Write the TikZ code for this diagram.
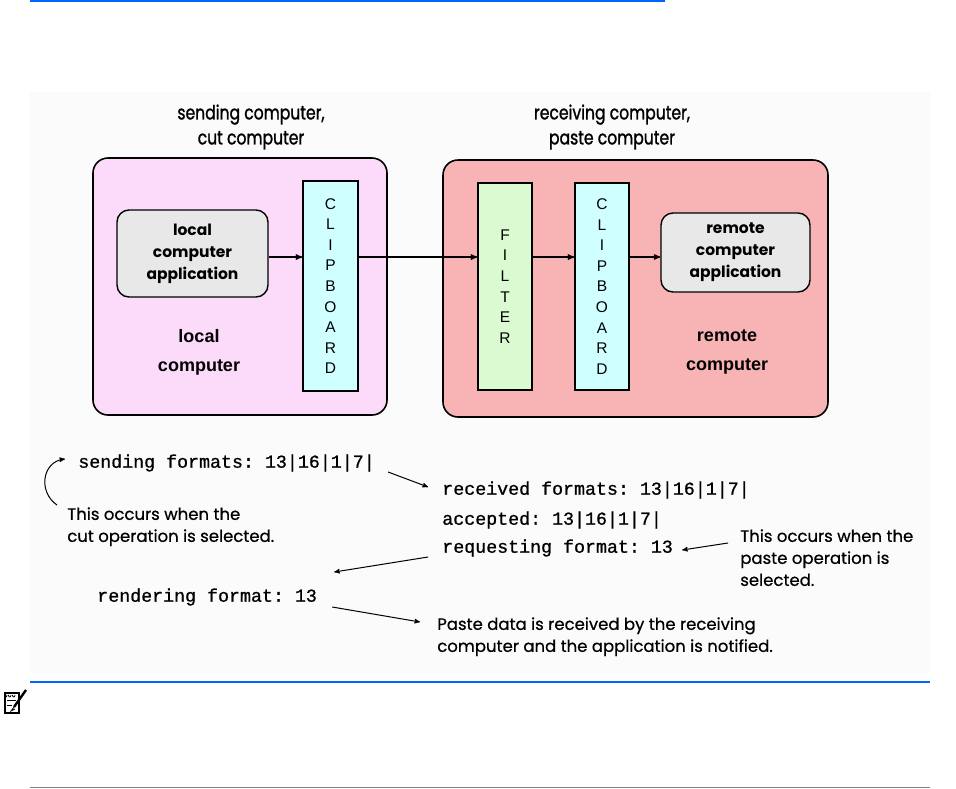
\documentclass[tikz,border=0pt]{standalone}
\usepackage{fontspec}
\setmainfont{Poppins}
\newfontfamily\condfont[FakeStretch=0.8,FakeBold=1.2]{Poppins}
\newfontfamily\notefont[FakeBold=0.6]{Poppins}
\newfontfamily\arialfont{Liberation Sans}
\setmonofont[FakeBold=0.8]{Liberation Mono}
\usepackage{tikz}
\usetikzlibrary{arrows,calc}
\definecolor{blueline}{RGB}{0,102,255}
\definecolor{figbg}{RGB}{251,251,251}
\definecolor{localpink}{RGB}{252,218,250}
\definecolor{remotered}{RGB}{248,180,180}
\definecolor{appgray}{RGB}{232,232,232}
\definecolor{clipcyan}{RGB}{208,255,255}
\definecolor{filtergreen}{RGB}{218,250,210}

\begin{document}
\begin{tikzpicture}[x=1pt,y=-1pt,>=stealth',semithick,
    machine/.style={draw, line width=1.6pt, rounded corners=15pt, inner sep=0pt},
    app/.style={draw, line width=1.4pt, rounded corners=12pt, fill=appgray, align=center,
      inner sep=0pt, font=\fontsize{15.5}{22}\selectfont\bfseries},
    strip/.style={draw, line width=1.6pt, align=center, inner sep=0pt,
      font=\arialfont\fontsize{15.5}{20.6}\selectfont},
    title/.style={align=center, inner sep=0pt, font=\condfont\fontsize{19.5}{25}\selectfont},
    place/.style={align=center, inner sep=0pt, font=\arialfont\bfseries\fontsize{18}{29}\selectfont},
    code/.style={anchor=west, inner sep=0pt, font=\ttfamily\fontsize{18.3}{22}\selectfont},
    note/.style={anchor=north west, inner sep=0pt, align=left, font=\notefont\fontsize{16.5}{22}\selectfont},
    flow/.style={->, line width=1.3pt},
    hint/.style={->, line width=1pt}]
    \useasboundingbox (0,0) rectangle (956,788);
    \fill[figbg] (30,92) rectangle (930,673);
    % page rules
    \draw[blueline, line width=1.5pt] (30,1) -- (665,1);
    \draw[blueline, line width=1.2pt] (30,682) -- (930,682);
    \draw[gray, line width=1pt] (30,787) -- (930,787);
    % note icon
    \draw[line width=1.3pt] (5,693) rectangle (19,713);
    \foreach \k in {7,11,15} \draw[line width=0.8pt] (\k,695) arc (0:180:1.3 and 2);
    \draw[line width=0.9pt] (7,700) -- (16,700) (7,705) -- (12,705);
    \draw[line width=2.4pt] (26,690) -- (14,707);
    \draw[line width=0.8pt] (14,707) -- (11,711) -- (15,709);

    % computers
    \node[title] (sendtitle) at (251,127) {sending computer,\\cut computer};
    \node[title] (recvtitle) at (612,127) {receiving computer,\\paste computer};
    \node[machine, fill=localpink, minimum width=294pt, minimum height=257pt] (local) at (240,286.5) {};
    \node[machine, fill=remotered, minimum width=385pt, minimum height=257pt] (remote) at (635.5,288.5) {};
    \node[app, minimum width=151pt, minimum height=87pt] (localapp) at (192.5,253.5) {local\\computer\\application};
    \node[strip, fill=clipcyan, minimum width=55pt, minimum height=210pt] (clipL) at (330.5,286) {C\\L\\I\\P\\B\\O\\A\\R\\D};
    \node[strip, fill=filtergreen, minimum width=54pt, minimum height=207pt] (filter) at (505,286.5) {F\\I\\L\\T\\E\\R};
    \node[strip, fill=clipcyan, minimum width=54pt, minimum height=207pt] (clipR) at (602,286.5) {C\\L\\I\\P\\B\\O\\A\\R\\D};
    \node[app, minimum width=149pt, minimum height=79pt] (remoteapp) at (735.5,252.5) {remote\\computer\\application};
    \node[place] (localname) at (199,352) {local\\computer};
    \node[place] (remotename) at (727,352) {remote\\computer};
    \coordinate (lane) at (0,257);
    \draw[flow] (localapp.east |- lane) -- (clipL.west |- lane);
    \draw[flow] (clipL.east |- lane) -- (filter.west |- lane);
    \draw[flow] (filter.east |- lane) -- (clipR.west |- lane);
    \draw[flow] (clipR.east |- lane) -- (remoteapp.west |- lane);

    % format exchange
    \node[code] (sendfmt) at (78,463) {sending formats: 13|16|1|7|};
    \node[note] (cutnote) at (67,507) {This occurs when the\\cut operation is selected.};
    \node[code] (recvfmt) at (442,490) {received formats: 13|16|1|7|};
    \node[code] (accfmt) at (442,520) {accepted: 13|16|1|7|};
    \node[code] (reqfmt) at (442,548) {requesting format: 13};
    \node[note] (pastenote) at (740,529) {This occurs when the\\paste operation is\\selected.};
    \node[code] (rendfmt) at (97,597) {rendering format: 13};
    \node[note] (datanote) at (437,617) {Paste data is received by the receiving\\computer and the application is notified.};
    \draw[hint] ($(cutnote.north west)+(-10,-2)$) .. controls (38,492) and (42,462) .. ($(sendfmt.west)+(-13,-4)$);
    \draw[hint] ($(sendfmt.east)+(13,9)$) -- ($(recvfmt.west)+(-14,-3)$);
    \draw[hint] ($(pastenote.north west)+(-12,14)$) -- ($(reqfmt.east)+(9,2)$);
    \draw[hint] ($(reqfmt.west)+(-14,9)$) -- ($(rendfmt.east)+(17,-25)$);
    \draw[hint] ($(rendfmt.east)+(15,10)$) -- ($(datanote.north west)+(-17,5)$);
\end{tikzpicture}
\end{document}
